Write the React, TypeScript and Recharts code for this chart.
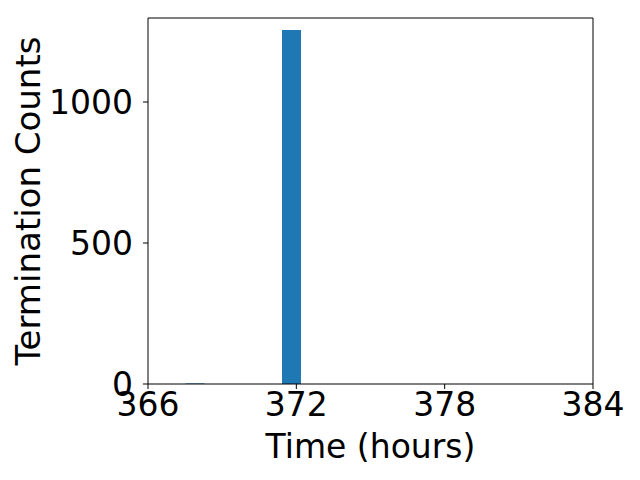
import React from 'react';
import { BarChart, Bar, XAxis, YAxis, ReferenceLine } from 'recharts';

// histogram: 6 bins between first and last termination time
const binEdges = [367.52, 368.3, 369.08, 369.86, 370.64, 371.42, 372.2];
const counts = [2, 0, 0, 0, 0, 1255];
const xTicks = [366, 372, 378, 384];
const yTicks = [0, 500, 1000];
const xDomain = [366, 384];
const yDomain = [0, 1298];

const data = counts.map((count, i) => ({
  mid: (binEdges[i] + binEdges[i + 1]) / 2,
  count,
}));

const font = { fontFamily: 'DejaVu Sans', fontSize: 33, fill: '#000' };

const App = () => {
  return (
    <div style={{ position: 'absolute', left: 0, top: 0, background: '#fff' }}>
      <BarChart
        width={640}
        height={480}
        data={data}
        margin={{ top: 18, right: 47, bottom: 0, left: 0 }}
        barCategoryGap={0}
      >
        <XAxis
          dataKey="mid"
          type="number"
          domain={xDomain}
          ticks={xTicks}
          allowDataOverflow
          height={96}
          stroke="#000"
          tickSize={5}
          tickMargin={4}
          tick={font}
          label={{ value: 'Time (hours)', position: 'insideBottom', offset: 22, style: font }}
        />
        <YAxis
          type="number"
          domain={yDomain}
          ticks={yTicks}
          allowDataOverflow
          width={148}
          stroke="#000"
          tickSize={5}
          tickMargin={10}
          tick={font}
          label={{
            value: 'Termination Counts',
            angle: -90,
            position: 'insideLeft',
            offset: 28,
            style: { ...font, fontSize: 34, textAnchor: 'middle' },
          }}
        />
        <Bar dataKey="count" fill="#1f77b4" barSize={19} isAnimationActive={false} />
        {/* top and right spines */}
        <ReferenceLine y={yDomain[1]} stroke="#000" ifOverflow="extendDomain" />
        <ReferenceLine x={xDomain[1]} stroke="#000" ifOverflow="extendDomain" />
      </BarChart>
    </div>
  );
};

export default App;
